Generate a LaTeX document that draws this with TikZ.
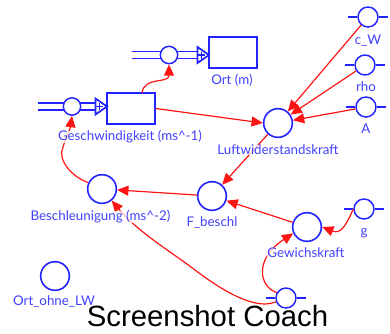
\documentclass[tikz,border=0pt]{standalone}
\usepackage{fontspec}
\setmainfont{Lato}
\newfontfamily\capfont{Liberation Sans}
\usetikzlibrary{arrows.meta}
\definecolor{bl}{RGB}{35,35,255}
\definecolor{lb}{RGB}{65,65,255}
\definecolor{rd}{RGB}{255,20,20}
\tikzset{
  bigvar/.style={circle,draw=bl,line width=1.2pt,minimum size=21.5pt,inner sep=0pt},
  smallvar/.style={circle,draw=bl,line width=1.1pt,minimum size=15pt,inner sep=0pt},
  flowvar/.style={circle,draw=bl,line width=1.1pt,minimum size=13pt,inner sep=0pt},
  stock/.style={rectangle,draw=bl,line width=1.1pt,minimum width=36pt,minimum height=23.25pt,inner sep=0pt},
  lab/.style={text=lb,font=\fontsize{10}{11}\selectfont,fill=white,fill opacity=.75,text opacity=1,inner sep=0pt},
  link/.style={draw=rd,line width=.9pt,-{Triangle[length=8.5pt,width=7.5pt,fill=rd]}},
  pipe/.style={draw=bl,line width=1.3pt},
  tick/.style={draw=bl,line width=1.8pt},
  x=.75pt,y=-.75pt
}
\begin{document}
\begin{tikzpicture}
\useasboundingbox (0,0) rectangle (390,333);
% stocks
\node[stock] (v) at (131,108.5) {};
\node[stock] (o) at (233,52.5) {};
% flows
\coordinate (f1s) at (38,106.5);
\coordinate (f1e) at (96,106.5);
\coordinate (f2s) at (132,55);
\coordinate (f2e) at (198,55);
\draw[pipe] ([yshift=2.7pt]f1s) -- ([yshift=2.7pt]f1e);
\draw[pipe] ([yshift=-2.7pt]f1s) -- ([yshift=-2.7pt]f1e);
\draw[pipe] ([yshift=2.7pt]f2s) -- ([yshift=2.7pt]f2e);
\draw[pipe] ([yshift=-2.7pt]f2s) -- ([yshift=-2.7pt]f2e);
\node[flowvar,fill=white] (f1) at (72,106.5) {};
\node[flowvar,fill=white] (f2) at (169,55) {};
\draw[pipe,fill=white] (95.5,98.5) -- (107,106.5) -- (95.5,114.5) -- cycle;
\draw[pipe,fill=white] (197.5,47) -- (209,55) -- (197.5,63) -- cycle;
\draw[draw=bl,line width=.8pt] (96,106.5) -- (103,106.5) (99.5,103) -- (99.5,110);
\draw[draw=bl,line width=.8pt] (198,55) -- (205,55) (201.5,51.5) -- (201.5,58.5);
% auxiliaries
\node[bigvar] (lw) at (278,123) {};
\node[bigvar] (fb) at (212,196) {};
\node[bigvar] (be) at (102,189) {};
\node[bigvar] (gk) at (307,227) {};
\node[bigvar] (oo) at (55,276) {};
% constants
\node[smallvar] (cw) at (368,17) {};
\node[smallvar] (rh) at (365,65) {};
\node[smallvar] (aa) at (366,107) {};
\node[smallvar] (gg) at (364,209) {};
\node[smallvar] (mm) at (286,298) {};
\foreach \n in {cw,rh,aa,gg,mm}{
  \draw[tick] (\n.west) -- ++(-9,0);
  \draw[tick] (\n.east) -- ++(9,0);
}
% connectors
\coordinate (vt) at (142,93);
\coordinate (mb) at (195,270);
\draw[link] (vt) .. controls (144,76) and (169,84) .. (f2.south);
\draw[link] (v.east) -- (lw.west);
\draw[link] (cw) -- (lw);
\draw[link] (rh) -- (lw);
\draw[link] (aa) -- (lw);
\draw[link] (lw) -- (fb);
\draw[link] (gk) -- (fb);
\draw[link] (fb) -- (be);
\draw[link] (be.155) .. controls (72,177) and (57,160) .. (63,147) .. controls (66,137) and (70,130) .. (f1.south);
\draw[link] (mm.-160) .. controls (258,310) and (228,295) .. (mb) .. controls (170,251) and (138,232) .. (be.-50);
\draw[link] (mm.150) .. controls (258,286) and (255,258) .. (gk.205);
\draw[link] (gg.west) .. controls (345,228) and (340,234) .. (gk.east);
% labels
\node[lab] (lv) at (130,137) {Geschwindigkeit (ms\textasciicircum-1)};
\node[lab] (lo) at (232,80) {Ort (m)};
\node[lab] (ll) at (278,150) {Luftwiderstandskraft};
\node[lab] (lc) at (368,41) {c\_W};
\node[lab] (lr) at (366,87) {rho};
\node[lab] (la) at (366,129) {A};
\node[lab] (lf) at (212,223) {F\_beschl};
\node[lab] (lb1) at (100.5,217) {Beschleunigung (ms\textasciicircum-2)};
\node[lab] (lg) at (306,253) {Gewichskraft};
\node[lab] (lgg) at (364,233) {g};
\node[lab] (loo) at (54,302) {Ort\_ohne\_LW};
\node[text=black,font=\capfont\fontsize{22}{24}\selectfont,inner sep=0pt] (cap) at (207.5,316) {Screenshot Coach};
\end{tikzpicture}
\end{document}
